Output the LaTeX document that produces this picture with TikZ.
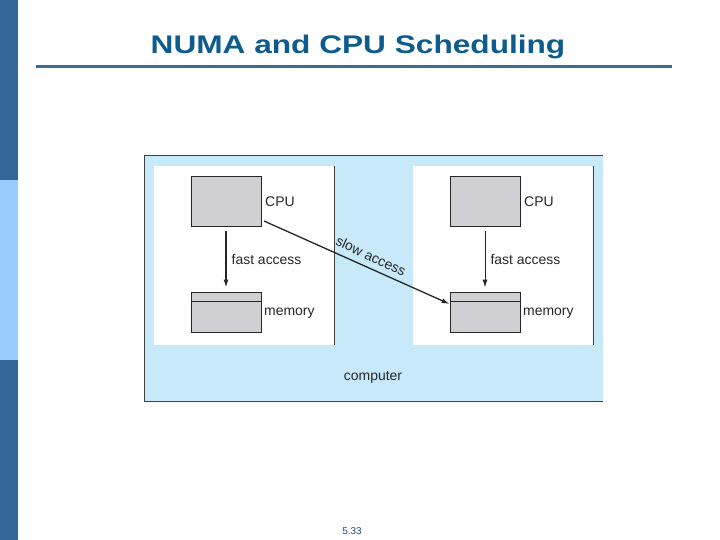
\documentclass[tikz,border=0pt]{standalone}
\usepackage{fontspec}
\setmainfont{Liberation Sans}
\usepackage{xcolor}
\usetikzlibrary{arrows.meta, positioning}

\definecolor{bardark}{HTML}{336699}
\definecolor{barlight}{HTML}{99CCFF}
\definecolor{titleblue}{HTML}{0E5C8E}
\definecolor{ruleblue}{HTML}{3F6B93}
\definecolor{compfill}{HTML}{C8E9F9}
\definecolor{boxgray}{HTML}{D0D0D4}
\definecolor{pageblue}{HTML}{1E4E79}

\tikzset{
  unitbox/.style={draw=black!85,fill=boxgray,line width=0.9pt,minimum width=70bp,inner sep=0pt},
  lbl/.style={draw=none,inner sep=0pt,anchor=west,font=\fontsize{14}{16}\selectfont,text=black!85},
  acc/.style={-{Latex[length=8bp,width=5bp]},line width=1.3pt,color=black!85}
}

\begin{document}
\begin{tikzpicture}[x=1bp,y=-1bp]
\useasboundingbox (0,0) rectangle (720,540);
% side bar
\fill[bardark] (0,0) rectangle (18,180);
\fill[barlight] (0,180) rectangle (18,360);
\fill[bardark] (0,360) rectangle (18,540);
% title
\node[draw=none,text=titleblue,font=\fontsize{25.6}{30}\selectfont\bfseries,xscale=1.24] (title) at (358,47) {NUMA and CPU Scheduling};
\draw[line width=3bp,color=ruleblue] (36,67)--(672,67);
% computer
\fill[compfill] (144,155) rectangle (603,401);
\draw[line width=0.9pt,color=black!75] (603,155)--(144,155)--(144,401)--(603,401);
\fill[white] (154,166) rectangle (334,345);
\fill[white] (413,166) rectangle (593,345);
\draw[line width=0.9pt,color=black!75] (334,166)--(334,345);
\draw[line width=0.9pt,color=black!75] (593,166)--(593,345);
\node[lbl,anchor=center] (comp) at (373,377) {computer};
% left node
\node[unitbox,minimum height=50bp] (cpuA) at (226,201) {};
\node[unitbox,minimum height=40bp] (memA) at (226,312) {};
\draw[line width=0.9pt,color=black!85] ([yshift=-10bp]memA.north west)--([yshift=-10bp]memA.north east);
\node[lbl] (cpuAl) at (265,202) {CPU};
\node[lbl] (memAl) at (264,313) {memory};
\draw[acc] ([yshift=-5bp]cpuA.south)--([yshift=4bp]memA.north) node[lbl,midway,right=5bp] (fastA) {fast access};
% right node
\node[unitbox,minimum height=50bp] (cpuB) at (485,201) {};
\node[unitbox,minimum height=40bp] (memB) at (485,312) {};
\draw[line width=0.9pt,color=black!85] ([yshift=-10bp]memB.north west)--([yshift=-10bp]memB.north east);
\node[lbl] (cpuBl) at (524,202) {CPU};
\node[lbl] (memBl) at (523,313) {memory};
\draw[acc,line width=1pt] ([yshift=-5bp]cpuB.south)--([yshift=4bp]memB.north) node[lbl,midway,right=5bp] (fastB) {fast access};
% remote access
\coordinate (slowS) at (264,221);
\draw[acc] (slowS)--([yshift=8bp]memB.west);
\node[lbl,anchor=center,rotate=-25] (slow) at (371,256) {slow access};
% page number
\node[draw=none,text=pageblue,font=\fontsize{10}{11}\selectfont] (page) at (352,531) {5.33};
\end{tikzpicture}
\end{document}
